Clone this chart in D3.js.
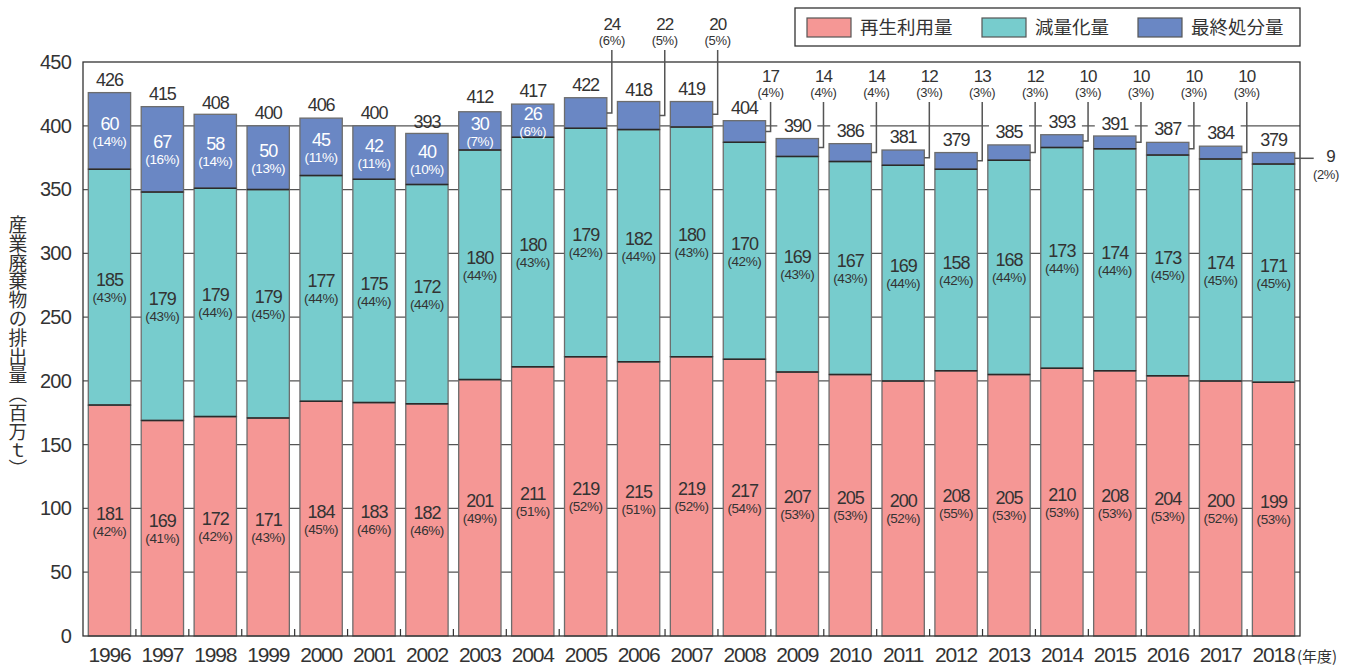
<!DOCTYPE html>
<html><head><meta charset="utf-8">
<script src="https://cdn.jsdelivr.net/npm/d3@7"></script>
<style>
body{margin:0;background:#fff;}
svg{display:block;font-family:"Liberation Sans",Arial,sans-serif;}
</style></head>
<body><svg id="c" width="1351" height="665"></svg>
<script>
const years = ["1996","1997","1998","1999","2000","2001","2002","2003","2004","2005","2006","2007","2008","2009","2010","2011","2012","2013","2014","2015","2016","2017","2018"];
const recycled    = [181,169,172,171,184,183,182,201,211,219,215,219,217,207,205,200,208,205,210,208,204,200,199];
const recycledPct = [42,41,42,43,45,46,46,49,51,52,51,52,54,53,53,52,55,53,53,53,53,52,53];
const reduced     = [185,179,179,179,177,175,172,180,180,179,182,180,170,169,167,169,158,168,173,174,173,174,171];
const reducedPct  = [43,43,44,45,44,44,44,44,43,42,44,43,42,43,43,44,42,44,44,44,45,45,45];
const landfill    = [60,67,58,50,45,42,40,30,26,24,22,20,17,14,14,12,13,12,10,10,10,10,9];
const landfillPct = [14,16,14,13,11,11,10,7,6,6,5,5,4,4,4,3,3,3,3,3,3,3,2];
const totals      = [426,415,408,400,406,400,393,412,417,422,418,419,404,390,386,381,379,385,393,391,387,384,379];
const yTicks = [0,50,100,150,200,250,300,350,400,450];
const seriesNames = ["再生利用量","減量化量","最終処分量"];
const colors = ["#F59795","#77CCCD","#6A87C4"];
const yTitle = "産業廃棄物の排出量（百万ｔ）";
const xUnit = "(年度)";

const svg = d3.select("#c");
const L=83, R=1300, T=62, B=636;
const x = d3.scaleBand().domain(years).range([L,R]).paddingInner(0.2).paddingOuter(0.1);
const y = d3.scaleLinear().domain([0,450]).range([B,T]);
const txt = "#333";

// gridlines
svg.append("g").selectAll("line").data(yTicks.filter(v=>v>0&&v<450)).join("line")
  .attr("x1",L).attr("x2",R).attr("y1",d=>y(d)).attr("y2",d=>y(d))
  .attr("stroke","#555").attr("stroke-width",1.2);

// stacked data
const rows = years.map((yr,i)=>({year:yr, a:recycled[i], b:reduced[i], c:landfill[i]}));
const stack = d3.stack().keys(["a","b","c"])(rows);

const gBars = svg.append("g");
stack.forEach((s,k)=>{
  gBars.append("g").selectAll("rect").data(s).join("rect")
    .attr("x",d=>x(d.data.year)).attr("width",x.bandwidth())
    .attr("y",d=>y(d[1])).attr("height",d=>y(d[0])-y(d[1]))
    .attr("fill",colors[k]).attr("stroke","#6d6d6d").attr("stroke-width",1.3);
});
// separators
[0,1].forEach(k=>{
  gBars.append("g").selectAll("line").data(stack[k]).join("line")
    .attr("x1",d=>x(d.data.year)).attr("x2",d=>x(d.data.year)+x.bandwidth())
    .attr("y1",d=>y(d[1])).attr("y2",d=>y(d[1]))
    .attr("stroke","#2a2a2a").attr("stroke-width",1.5);
});

// frame
svg.append("rect").attr("x",L).attr("y",T).attr("width",R-L).attr("height",B-T)
  .attr("fill","none").attr("stroke","#333").attr("stroke-width",1.3);

// boundary ticks at bottom
const bounds = years.slice(0,-1).map((yr,i)=>x(yr)+x.bandwidth()+(x.step()-x.bandwidth())/2);
svg.append("g").selectAll("line").data(bounds).join("line")
  .attr("x1",d=>d).attr("x2",d=>d).attr("y1",B).attr("y2",B-7)
  .attr("stroke","#333").attr("stroke-width",1.2);

// y axis
const ya = svg.append("g").attr("transform",`translate(${L},0)`)
  .call(d3.axisLeft(y).tickValues(yTicks).tickSize(0).tickPadding(12));
ya.select(".domain").remove();
ya.selectAll("text").attr("font-size",20).attr("fill",txt).attr("letter-spacing","-0.8px")
  .attr("font-family","Liberation Sans, Arial, sans-serif");

// x axis
const xa = svg.append("g").attr("transform",`translate(0,${B})`)
  .call(d3.axisBottom(x).tickSize(0).tickPadding(11));
xa.select(".domain").remove();
xa.selectAll("text").attr("font-size",21).attr("fill",txt).attr("letter-spacing","-1.2px")
  .attr("font-family","Liberation Sans, Arial, sans-serif");
svg.append("text").attr("x",1297).attr("y",662).attr("font-size",15).attr("fill",txt)
  .attr("font-family","Noto Sans CJK JP").text(xUnit);

// y title
svg.append("text").attr("x",18).attr("y",347).attr("writing-mode","vertical-rl")
  .attr("text-anchor","middle").attr("font-size",18.8).attr("fill",txt)
  .attr("font-family","Noto Sans CJK JP").text(yTitle);

// inner labels
const lab = svg.append("g").attr("text-anchor","middle");
function pairLabel(cx, mid, v, p, col){
  lab.append("text").attr("x",cx).attr("y",mid-1).attr("font-size",18).attr("fill",col)
    .attr("letter-spacing","-1px").text(v);
  lab.append("text").attr("x",cx).attr("y",mid+15).attr("font-size",13.5).attr("fill",col)
    .attr("letter-spacing","-0.4px").text(`(${p}%)`);
}
years.forEach((yr,i)=>{
  const cx = x(yr)+x.bandwidth()/2;
  const s0 = stack[0][i], s1 = stack[1][i], s2 = stack[2][i];
  pairLabel(cx, y((s0[0]+s0[1])/2), recycled[i], recycledPct[i], txt);
  pairLabel(cx, y((s1[0]+s1[1])/2), reduced[i], reducedPct[i], txt);
  const midB = y((s2[0]+s2[1])/2);
  const right = x(yr)+x.bandwidth();
  if (+yr <= 2004) {
    pairLabel(cx, midB, landfill[i], landfillPct[i], "#fff");
  } else if (+yr <= 2017) {
    const high = +yr <= 2007;
    const lx = right+5, topY = high ? 50 : 102;
    const numY = high ? 30 : 82, pctY = high ? 45 : 97;
    svg.append("path").attr("d",`M${right},${midB}H${lx}V${topY}`)
      .attr("fill","none").attr("stroke","#555").attr("stroke-width",1.5);
    lab.append("text").attr("x",lx).attr("y",numY).attr("font-size",17).attr("fill",txt)
      .attr("letter-spacing","-1px").text(landfill[i]);
    lab.append("text").attr("x",lx).attr("y",pctY).attr("font-size",13).attr("fill",txt)
      .attr("letter-spacing","-0.3px").text(`(${landfillPct[i]}%)`);
  } else {
    svg.append("path").attr("d",`M${right},${midB}H${right+19}`)
      .attr("fill","none").attr("stroke","#555").attr("stroke-width",1.5);
    lab.append("text").attr("x",1331).attr("y",midB+4).attr("font-size",17).attr("fill",txt).text(landfill[i]);
    lab.append("text").attr("x",1326).attr("y",midB+21).attr("font-size",13).attr("fill",txt)
      .attr("letter-spacing","-0.3px").text(`(${landfillPct[i]}%)`);
  }
  // total
  const ty = y(totals[i]) - 7;
  if (+yr >= 2009 && +yr <= 2017) {
    lab.append("rect").attr("x",cx-20).attr("y",ty-15).attr("width",40).attr("height",18).attr("fill","#fff");
  }
  lab.append("text").attr("x",cx).attr("y",ty).attr("font-size",18).attr("fill",txt)
    .attr("letter-spacing","-1.1px").text(totals[i]);
});

// legend
const lg = svg.append("g");
lg.append("rect").attr("x",795).attr("y",8).attr("width",505).attr("height",38)
  .attr("fill","#fff").attr("stroke","#333").attr("stroke-width",1.3);
const lgX = [807,982,1138];
seriesNames.forEach((n,k)=>{
  lg.append("rect").attr("x",lgX[k]).attr("y",18).attr("width",44).attr("height",19)
    .attr("fill",colors[k]).attr("stroke","#555").attr("stroke-width",1.2);
  lg.append("text").attr("x",lgX[k]+53).attr("y",34).attr("font-size",18.5).attr("fill",txt)
    .attr("font-family","Noto Sans CJK JP").text(n);
});
</script></body></html>
